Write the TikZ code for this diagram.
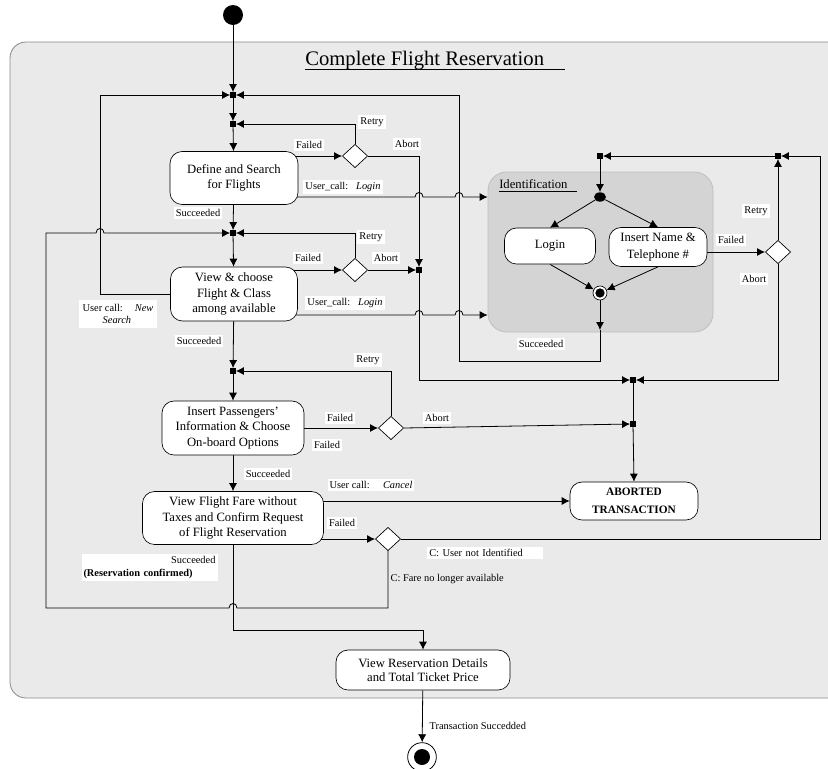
\documentclass[tikz,border=0pt]{standalone}
\usepackage{fontspec}
\setmainfont{Liberation Serif}
\usetikzlibrary{arrows.meta,shapes.geometric,calc}
\pgfdeclarelayer{back}
\pgfdeclarelayer{bg}
\pgfsetlayers{back,bg,main}
\definecolor{regfill}{HTML}{EAEAEA}
\definecolor{regline}{HTML}{8A8A8A}
\definecolor{identfill}{HTML}{D4D4D4}
\definecolor{identline}{HTML}{BEBEBE}
\begin{document}
\begin{tikzpicture}[x=0.75pt,y=-0.75pt,
  arr/.style={-{Latex[length=6pt,width=6pt]}, line width=0.6pt},
  ln/.style={line width=0.6pt},
  act/.style={draw, fill=white, rounded corners=9pt, align=center, inner sep=1pt, font=\fontsize{9.5}{11.6}\selectfont, line width=0.5pt},
  dia/.style={draw, fill=white, diamond, minimum width=19pt, minimum height=17.5pt, inner sep=0pt, line width=0.5pt},
  jn/.style={fill=black, rectangle, minimum size=4pt, inner sep=0pt},
  lbl/.style={fill=white, inner sep=1.5pt, font=\fontsize{7.8}{9.5}\selectfont},
  plbl/.style={inner sep=1pt, font=\fontsize{7.8}{9.5}\selectfont},
]
\useasboundingbox (0,0) rectangle (828,768);
\clip (0,0) rectangle (828,768);
\begin{pgfonlayer}{back}
\fill[white] (0,0) rectangle (828,768);
\draw[fill=regfill, draw=regline, rounded corners=12pt, line width=0.6pt] (870,42) -- (10,42) -- (10,698) -- (870,698);
\node[draw=identline, fill=identfill, rounded corners=14pt, minimum width=168.75pt, minimum height=120pt, line width=0.6pt] (ident) at (600.5,252) {};
\end{pgfonlayer}

% titles
\node[font=\fontsize{15.5}{18}\selectfont, anchor=base west, inner sep=0pt] (title) at (305,65) {Complete Flight Reservation};
\draw[line width=0.6pt] (title.base west) ++(0,4) -- ++(260,0);
\node[font=\fontsize{9.5}{11}\selectfont, anchor=base west, inner sep=0pt] (idt) at (499,188) {Identification};
\draw[line width=0.5pt] (idt.base west) ++(0,3.5) -- ++(78,0);

% nodes
\node[circle, fill=black, minimum size=15pt, inner sep=0pt] (init) at (233,15) {};
\node[jn] (J1) at (233,95) {};
\node[jn] (J2) at (233,124) {};
\node[act, minimum width=96pt, minimum height=39.75pt] (N1) at (234,178) {Define and Search\\for Flights};
\node[dia] (D1) at (355,156) {};
\node[jn] (J3) at (419,270) {};
\node[jn] (J8) at (233,233) {};
\node[act, minimum width=95.25pt, minimum height=40.5pt] (N2) at (234,294) {View \& choose\\Flight \& Class\\among available};
\node[dia] (D2) at (355,270) {};
\node[jn] (J9) at (233,371) {};
\node[act, minimum width=106.5pt, minimum height=40.5pt] (N3) at (233,428) {Insert Passengers'\\Information \& Choose\\On-board Options};
\node[dia] (D3) at (391,428) {};
\node[jn] (J4) at (633,380) {};
\node[jn] (J5) at (633,424) {};
\node[act, minimum width=135.75pt, minimum height=39.75pt] (N4) at (233,518) {View Flight Fare without\\Taxes and Confirm Request\\of Flight Reservation};
\node[act, font=\bfseries\fontsize{8.5}{13.5}\selectfont, minimum width=96pt, minimum height=28.5pt] (AB) at (634,501) {ABORTED\\TRANSACTION};
\node[dia] (D4) at (388,539) {};
\node[act, minimum width=130.5pt, minimum height=30pt, font=\fontsize{9.5}{10.5}\selectfont] (N5) at (423,670) {View Reservation Details\\and Total Ticket Price};
\node[circle, draw, fill=white, minimum size=21.5pt, inner sep=0pt, line width=0.6pt] (fin) at (422,757) {};
\node[circle, fill=black, minimum size=12pt, inner sep=0pt] (finin) at (fin) {};

\node[jn] (J6) at (600,156) {};
\node[jn] (J7) at (778,156) {};
\node[ellipse, fill=black, minimum width=9pt, minimum height=7pt, inner sep=0pt] (fork) at (600,197) {};
\node[act, minimum width=68.25pt, minimum height=27pt] (login) at (550,246) {Login};
\node[act, minimum width=73.5pt, minimum height=29.25pt, font=\fontsize{9.5}{12.8}\selectfont] (ins) at (658,247) {Insert Name \&\\Telephone \#};
\node[circle, draw, fill=white, minimum size=10.5pt, inner sep=0pt, line width=0.5pt] (join) at (600,293) {};
\node[circle, fill=black, minimum size=7pt, inner sep=0pt] (joinin) at (join) {};
\node[dia] (Did) at (778,252) {};

\coordinate (l1s) at (234,197);
\coordinate (l2s) at (234,315);
\coordinate (ns) at (100,294);
\coordinate (rc) at (820,539);
\coordinate (ib) at (600,330);
\coordinate (sr) at (459,361);

\begin{pgfonlayer}{bg}
\draw[arr] (init) -- (J1);
\draw[arr] (J1) -- (J2);
\draw[arr] (J2) -- (N1);
\draw[arr] (N1.center |- D1) -- (D1.west);
\draw[arr] (D1.north) |- (J2.east);
\draw[arr] (D1.east) -| (J3.north);
\draw[arr] (l1s) -- (415,197) .. controls (415,191) and (423,191) .. (423,197) -- (455,197) .. controls (455,191) and (463,191) .. (463,197) -- (ident.west |- l1s);
\draw[arr] (N1) -- (J8);
\draw[arr] (J8) -- (N2);
\draw[arr] (N2.center |- D2) -- (D2.west);
\draw[arr] (D2.north) |- (J8.east);
\draw[arr] (D2.east) -- (J3.west);
\draw[arr] (N2.center) -- (ns) |- (J1.west);
\draw[arr] (l2s) -- (415,315) .. controls (415,309) and (423,309) .. (423,315) -- (455,315) .. controls (455,309) and (463,309) .. (463,315) -- (ident.west |- l2s);
\draw[arr] (N2) -- (J9);
\draw[arr] (J9) -- (N3);
\draw[arr] (N3.center) -- (D3.west);
\draw[arr] (D3.north) |- (J9.east);
\draw[arr] (D3.east) -- (J5.west);
\draw[arr] (J3.south) |- (J4.west);
\draw[arr] (Did.south) |- (J4.east);
\draw[ln] (J4) -- (J5);
\draw[arr] (J5) -- (AB.north);
\draw[arr] (N3) -- (N4);
\draw[arr] (N4.center |- AB.west) -- (AB.west);
\draw[arr] (N4.center |- D4) -- (D4.west);
\draw[arr] (D4.east) -- (rc) |- (J7.east);
\draw[arr] (D4.south) -- (388,608) -- (237,608) .. controls (237,602) and (229,602) .. (229,608) -- (46,608) -- (46,233) -- (96,233) .. controls (96,227) and (104,227) .. (104,233) -- (J8.west);
\draw[arr] (N4.south) -- (233,630) -| (N5.north);
\draw[arr] (N5) -- (fin);
\draw[arr] (J6) -- (fork);
\draw[arr] (fork) -- (login.north);
\draw[arr] (fork) -- (ins.north);
\draw[arr] (login.south) -- (join);
\draw[arr] (ins.south) -- (join);
\draw[arr] (join) -- (ib);
\draw[arr] (ib) |- (sr) |- (J1.east);
\draw[arr] (ins.center |- Did) -- (Did.west);
\draw[arr] (Did.north) -- (J7.south);
\draw[arr] (J7.west) -- (J6.east);
\end{pgfonlayer}

% labels
\node[lbl] at (309,145) {Failed};
\node[lbl] at (372,122) {Retry};
\node[lbl] at (407,144) {Abort};
\node[lbl] at (343,187) {User\_call:\hspace{6pt}\textit{Login}};
\node[lbl] at (198,213) {Succeeded};
\node[lbl] at (371,237) {Retry};
\node[lbl] at (308,258) {Failed};
\node[lbl] at (386,258) {Abort};
\node[lbl] at (345,303) {User\_call:\hspace{6pt}\textit{Login}};
\node[lbl, align=left, inner sep=3pt] at (118,314) {User call:\hspace{9pt}\textit{New}\\\hspace{15pt}\textit{Search}};
\node[lbl] at (199,341) {Succeeded};
\node[lbl] at (368,360) {Retry};
\node[lbl] at (340,418) {Failed};
\node[lbl] at (327,445) {Failed};
\node[lbl] at (437,418) {Abort};
\node[lbl] at (268,474) {Succeeded};
\node[lbl] at (371,485) {User call:\hspace{10pt}\textit{Cancel}};
\node[lbl] at (342,523) {Failed};
\node[lbl, anchor=west, text width=84pt, align=left] at (427,553) {C: User not Identified};
\node[plbl, anchor=west] at (389,579) {C: Fare no longer available};
\node[lbl, text width=99pt, align=left] at (149.5,567.5) {\hfill Succeeded\hspace{8pt}\\\textbf{(Reservation confirmed)}};
\node[plbl, anchor=west] at (428,726) {Transaction Succedded};
\node[lbl] at (541,344) {Succeeded};
\node[lbl] at (731,240) {Failed};
\node[lbl] at (756,211) {Retry};
\node[lbl] at (754,279) {Abort};
\end{tikzpicture}
\end{document}
